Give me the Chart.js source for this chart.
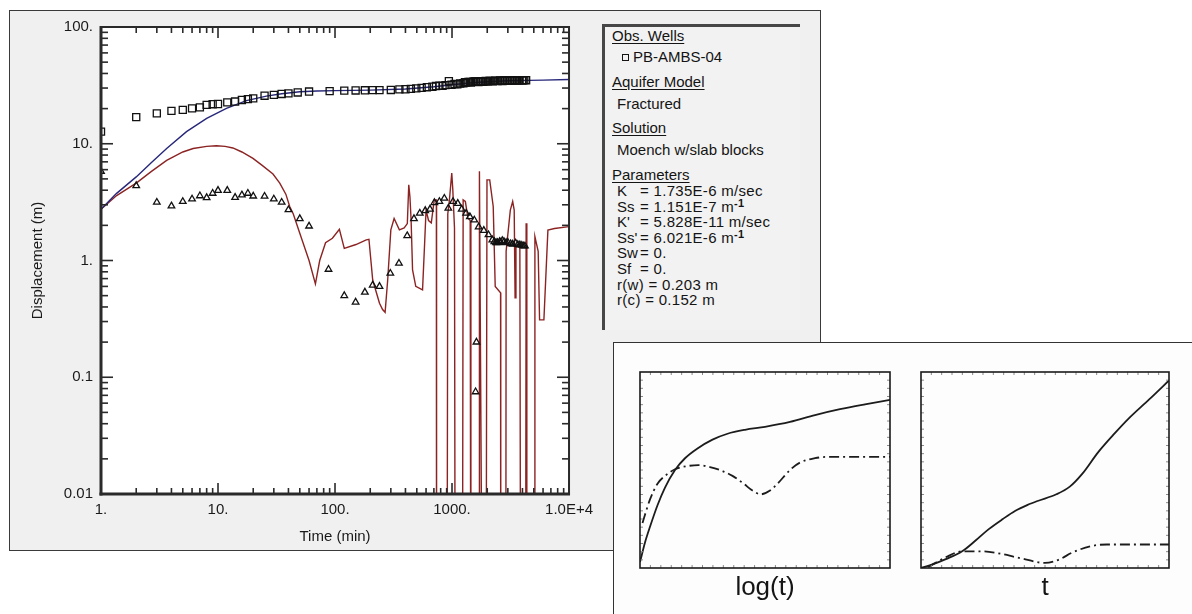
<!DOCTYPE html>
<html>
<head>
<meta charset="utf-8">
<script src="https://cdn.jsdelivr.net/npm/chart.js@4.4.1/dist/chart.umd.min.js"></script>
<style>
  html, body { margin: 0; padding: 0; width: 1192px; height: 614px; overflow: hidden; background: #ffffff;
    font-family: "Liberation Sans", Arial, sans-serif; }
  #win { position: absolute; left: 9px; top: 10px; width: 810px; height: 539px; background: #f0f0f0; border: 1px solid #3a3a3a; }
  #main { position: absolute; left: 0; top: 0; }
  #legendBox { position: absolute; left: 602px; top: 24px; width: 195px; height: 303px; background: #f2f2f2;
    border-left: 3px solid #474747; border-top: 3px solid #474747; }
  .lg { position: absolute; font-size: 15px; line-height: 16px; color: #141414; white-space: nowrap; }
  .pv { letter-spacing: 0.3px; }
  .u { text-decoration: underline; text-underline-offset: 2px; }
  .lg sup { font-size: 11px; line-height: 0; vertical-align: 5px; font-weight: bold; }
  #wellMark { position: absolute; left: 622px; top: 54px; width: 5px; height: 5px; border: 1px solid #141414; }
  #inset { position: absolute; left: 613px; top: 342px; width: 600px; height: 300px; background: #fdfdfd; border: 1px solid #333; }
  .inc { position: absolute; }
  .axlab { position: absolute; font-size: 26px; color: #151515; transform: translateX(-50%); white-space: nowrap; }
</style>
</head>
<body>
<div id="win"></div>
<canvas id="main" width="600" height="560"></canvas>

<div id="legendBox"></div>
<div class="lg u" style="left:612px;top:28px;">Obs. Wells</div>
<div id="wellMark"></div>
<div class="lg" style="left:633px;top:49px;">PB-AMBS-04</div>
<div class="lg u" style="left:612px;top:74px;">Aquifer Model</div>
<div class="lg" style="left:617px;top:96px;">Fractured</div>
<div class="lg u" style="left:612px;top:120px;">Solution</div>
<div class="lg" style="left:617px;top:142px;">Moench w/slab blocks</div>
<div class="lg u" style="left:612px;top:167px;">Parameters</div>
<div class="lg" style="left:617px;top:183px;">K</div><div class="lg pv" style="left:640px;top:183px;">= 1.735E-6 m/sec</div>
<div class="lg" style="left:617px;top:199px;">Ss</div><div class="lg pv" style="left:640px;top:199px;">= 1.151E-7 m<sup>-1</sup></div>
<div class="lg" style="left:617px;top:214px;">K'</div><div class="lg pv" style="left:640px;top:214px;">= 5.828E-11 m/sec</div>
<div class="lg" style="left:617px;top:230px;">Ss'</div><div class="lg pv" style="left:640px;top:230px;">= 6.021E-6 m<sup>-1</sup></div>
<div class="lg" style="left:617px;top:245px;">Sw</div><div class="lg pv" style="left:640px;top:245px;">= 0.</div>
<div class="lg" style="left:617px;top:261px;">Sf</div><div class="lg pv" style="left:640px;top:261px;">= 0.</div>
<div class="lg pv" style="left:617px;top:277px;">r(w) = 0.203 m</div>
<div class="lg pv" style="left:617px;top:292px;">r(c) = 0.152 m</div>

<div id="inset"></div>
<canvas id="insetLog" class="inc" width="260" height="206" style="left:635px;top:367px;"></canvas>
<canvas id="insetLin" class="inc" width="258" height="206" style="left:916px;top:367px;"></canvas>
<div class="axlab" style="left:765px;top:571px;">log(t)</div>
<div class="axlab" style="left:1045px;top:571px;">t</div>

<script>
// ---- Axis ticks ----
const xTickValues = [1, 10, 100, 1000, 10000];
const xTickLabels = ['1.', '10.', '100.', '1000.', '1.0E+4'];
const yTickValues = [0.01, 0.1, 1, 10, 100];
const yTickLabels = ['0.01', '0.1', '1.', '10.', '100.'];

// ---- Observation well PB-AMBS-04 : drawdown (squares) ----
const wellTime = [1, 2, 3, 4, 5, 6, 7, 8, 9, 10, 12, 14, 16, 18, 20, 25, 30, 35, 40, 48, 60, 90, 120, 150, 180,
  210, 240, 300, 355, 400, 445, 495, 550, 610, 680, 730, 780, 830, 880, 940, 990, 1050, 1110, 1175, 1250,
  1320, 1380, 1450, 1520, 1600, 1680, 1760, 1850, 1940, 2030, 2130, 2230, 2340, 2450, 2570, 2700, 2830,
  2970, 3120, 3270, 3430, 3600, 3780, 3960, 4150, 4300,
  1290, 1420, 1560, 1720, 1900, 2080, 2280, 2500, 2760, 3040, 3350, 3690, 4060];
const wellDisp = [12.7, 16.9, 18.2, 19.1, 19.5, 20.1, 20.5, 21.5, 21.8, 21.9, 22.6, 23.0, 23.7, 24.1, 24.5,
  25.8, 26.2, 26.7, 27.0, 27.5, 28.0, 28.2, 28.5, 28.6, 28.7, 28.8, 28.8, 28.9, 29.2, 29.3, 29.5, 29.8, 30.1,
  30.5, 30.8, 31.2, 31.5, 31.3, 31.8, 34.3, 32.0, 32.5, 32.3, 32.8, 33.0, 33.4, 33.8, 33.5, 34.0, 34.2, 33.8,
  34.3, 34.0, 34.5, 34.2, 34.6, 34.3, 34.7, 34.4, 34.8, 34.5, 34.9, 34.6, 35.0, 34.7, 35.0, 34.8, 35.1, 34.9,
  35.1, 35.0,
  33.6, 33.9, 34.1, 34.4, 34.2, 34.5, 34.6, 34.6, 34.8, 34.8, 34.9, 35.0, 35.0];

// ---- Derivative of drawdown (triangles) ----
const derivTime = [1, 2, 3, 4, 5, 6, 7, 8, 9, 10, 12, 14, 16, 18, 20, 25, 30, 35, 40, 50, 60, 88, 120, 150,
  180, 210, 240, 297, 352, 414, 473, 530, 590, 648, 707, 780, 860, 930, 1020, 1120, 1210, 1320, 1420, 1550,
  1590, 1617, 1690, 1870, 2050, 2210, 2300, 2380, 2450, 2550, 2600, 2690, 2780, 2900, 3000, 3170, 3300,
  3500, 3650, 3800, 3950, 4090, 4200];
const derivDisp = [5.8, 4.37, 3.15, 2.93, 3.2, 3.36, 3.58, 3.45, 3.76, 3.98, 3.98, 3.47, 3.64, 3.76, 3.56,
  3.55, 3.36, 3.15, 2.72, 2.28, 1.97, 0.84, 0.5, 0.44, 0.535, 0.615, 0.6, 0.777, 0.946, 1.63, 2.28, 2.54, 2.67,
  2.75, 3.13, 3.2, 3.41, 2.8, 3.2, 3.08, 2.75, 2.54, 2.37, 2.22, 0.075, 0.2, 1.94, 1.81, 1.66, 1.5, 1.45, 1.42,
  1.42, 1.45, 1.43, 1.48, 1.45, 1.42, 1.43, 1.39, 1.38, 1.41, 1.37, 1.36, 1.35, 1.33, 1.33];

// ---- Moench type curve, drawdown ----
const fitTime = [1, 1.36, 2, 2.7, 3.64, 5.38, 8, 11.8, 17.5, 25.9, 35, 50, 70, 100, 200, 400, 700, 1000,
  1500, 2000, 3000, 4500, 6000, 10000];
const fitDisp = [2.75, 3.76, 5.2, 6.9, 9.1, 12.7, 16.5, 20.1, 23.4, 25.6, 26.8, 27.9, 28.3, 28.5, 28.8, 29.4,
  30.8, 32.0, 33.3, 34.0, 34.6, 34.9, 35.1, 35.5];

// ---- Moench type curve, derivative (values near 1e-4 run off the bottom of the log axis) ----
const fitDerivTime = [1, 1.36, 2, 2.7, 3.64, 5, 6.13, 8, 9.7, 11.5, 13.4, 16, 19.9, 24, 29.5, 33.7, 38, 41, 44,
  50, 60, 68, 74, 83, 95, 109, 120, 151, 185, 195, 210, 240, 255, 268, 282, 300, 320, 355, 390, 415, 427, 437,
  447, 460, 490, 560, 585, 600, 630, 665, 705, 735, 738, 905, 920, 950, 995, 1015, 1050, 1067, 1225, 1245,
  1300, 1370, 1430, 1450, 1705, 1715, 1830, 1950, 1990, 2100, 2250, 2340, 2600, 2610, 2880, 2900, 3150,
  3300, 3400, 3460, 3520, 3800, 3870, 4250, 4300, 4360, 5090, 5110, 5450, 5600, 6100, 6600, 7500, 10000];
const fitDerivDisp = [2.75, 3.6, 4.6, 5.8, 7.2, 8.5, 9.1, 9.5, 9.6, 9.5, 9.2, 8.5, 7.5, 6.5, 5.5, 4.6, 3.7,
  2.9, 2.5, 1.71, 1.0, 0.63, 1.0, 1.42, 1.55, 1.85, 1.27, 1.37, 1.5, 1.52, 0.68, 0.43, 0.38, 0.36, 0.68, 1.83,
  2.29, 1.83, 1.9, 2.07, 4.45, 3.5, 2.22, 0.83, 0.6, 0.56, 1.5, 2.7, 2.2, 2.1, 3.3, 3.3, 1e-4, 1e-4, 2.5, 3.3,
  5.6, 4.1, 1.9, 1e-4, 1e-4, 3.3, 3.2, 2.3, 2.2, 1e-4, 1e-4, 5.8, 1e-4, 1e-4, 4.9, 4.9, 2.9, 0.6, 0.53, 1e-4,
  1e-4, 1.2, 2.7, 3.2, 2.7, 0.48, 1.3, 1.4, 1e-4, 1e-4, 2.08, 1e-4, 1e-4, 1.6, 1.2, 0.31, 0.31, 1.82, 1.88,
  1.95];

// ---- Sketch curves: drawdown (solid) and derivative (dash-dot), log(t) and t panels ----
const logPanelSolidX = [0, 0.02, 0.04, 0.07, 0.1, 0.14, 0.18, 0.23, 0.29, 0.35, 0.42, 0.5, 0.6, 0.7, 0.8, 0.9, 1.0];
const logPanelSolidY = [0.03, 0.13, 0.21, 0.32, 0.41, 0.5, 0.56, 0.61, 0.655, 0.685, 0.705, 0.72, 0.745, 0.78, 0.81, 0.835, 0.858];
const logPanelDerivX = [0.01, 0.04, 0.07, 0.1, 0.14, 0.19, 0.234, 0.28, 0.32, 0.37, 0.415, 0.45, 0.483, 0.52, 0.55, 0.6, 0.64, 0.7, 0.747, 1.0];
const logPanelDerivY = [0.23, 0.35, 0.43, 0.47, 0.504, 0.52, 0.525, 0.515, 0.5, 0.47, 0.43, 0.395, 0.376, 0.395, 0.43, 0.5, 0.538, 0.56, 0.567, 0.567];
const linPanelSolidX = [0, 0.044, 0.1, 0.166, 0.22, 0.272, 0.33, 0.379, 0.43, 0.47, 0.546, 0.6, 0.65, 0.714, 0.776, 0.836, 0.92, 1.0];
const linPanelSolidY = [0, 0.017, 0.045, 0.085, 0.14, 0.197, 0.25, 0.291, 0.322, 0.342, 0.376, 0.415, 0.48, 0.59, 0.68, 0.761, 0.86, 0.957];
const linPanelDerivX = [0.029, 0.1, 0.166, 0.24, 0.303, 0.4, 0.5, 0.56, 0.607, 0.683, 0.75, 1.0];
const linPanelDerivY = [0.005, 0.055, 0.085, 0.085, 0.077, 0.05, 0.026, 0.045, 0.077, 0.111, 0.12, 0.12];

const pairs = (xs, ys) => xs.map((v, i) => ({ x: v, y: ys[i] }));

Chart.defaults.font.family = '"Liberation Sans", Arial, sans-serif';
Chart.defaults.color = '#1a1a1a';

// White plot area, inward minor/major ticks on all four sides, heavy frame
const logFrame = {
  id: 'logFrame',
  beforeDatasetsDraw(chart) {
    const { ctx, chartArea: a } = chart;
    ctx.save();
    ctx.fillStyle = '#ffffff';
    ctx.fillRect(a.left, a.top, a.right - a.left, a.bottom - a.top);
    ctx.restore();
  },
  afterDatasetsDraw(chart) {
    const { ctx, chartArea: a, scales: { x, y } } = chart;
    ctx.save();
    ctx.strokeStyle = '#2a2a2a';
    ctx.lineWidth = 1.6;
    const seg = (x1, y1, x2, y2) => { ctx.beginPath(); ctx.moveTo(x1, y1); ctx.lineTo(x2, y2); ctx.stroke(); };
    for (let e = 0; e <= 4; e++) {
      for (let k = 1; k <= 9; k++) {
        if (e === 4 && k > 1) break;
        const px = x.getPixelForValue(k * Math.pow(10, e));
        const len = k === 1 ? 11 : 6;
        seg(px, a.bottom, px, a.bottom - len);
        seg(px, a.top, px, a.top + len);
      }
    }
    for (let e = -2; e <= 2; e++) {
      for (let k = 1; k <= 9; k++) {
        if (e === 2 && k > 1) break;
        const py = y.getPixelForValue(k * Math.pow(10, e));
        const len = k === 1 ? 12 : 7;
        seg(a.left, py, a.left + len, py);
        seg(a.right, py, a.right - len, py);
      }
    }
    ctx.lineWidth = 2;
    ctx.strokeRect(a.left, a.top, a.right - a.left, a.bottom - a.top);
    ctx.lineWidth = 3;
    seg(a.left, a.top - 1, a.left, a.bottom + 1.5);
    seg(a.left - 1.5, a.bottom, a.right + 1, a.bottom);
    ctx.restore();
  }
};

new Chart(document.getElementById('main'), {
  type: 'scatter',
  data: {
    datasets: [
      { label: 'PB-AMBS-04', data: pairs(wellTime, wellDisp), pointStyle: 'rect', pointRadius: 5,
        borderColor: '#111111', backgroundColor: 'rgba(0,0,0,0)', borderWidth: 1.3, showLine: false },
      { label: 'derivative', data: pairs(derivTime, derivDisp), pointStyle: 'triangle', pointRadius: 3.8,
        borderColor: '#111111', backgroundColor: 'rgba(0,0,0,0)', borderWidth: 1.3, showLine: false },
      { label: 'Moench', data: pairs(fitTime, fitDisp), showLine: true, pointRadius: 0,
        borderColor: '#27277a', borderWidth: 1.4 },
      { label: 'Moench derivative', data: pairs(fitDerivTime, fitDerivDisp), showLine: true, pointRadius: 0,
        borderColor: '#8c2323', borderWidth: 1.4 }
    ]
  },
  options: {
    responsive: false, animation: false, devicePixelRatio: 1,
    layout: { padding: { left: 0, top: 27, right: 30, bottom: 11 } },
    plugins: { legend: { display: false }, tooltip: { enabled: false } },
    scales: {
      x: {
        type: 'logarithmic', min: 1, max: 10000,
        grid: { display: false, drawTicks: false }, border: { display: false },
        afterBuildTicks: s => { s.ticks = xTickValues.map(v => ({ value: v })); },
        afterFit: s => { s.height = 55; },
        ticks: { autoSkip: false, maxRotation: 0, padding: 7, color: '#1a1a1a', font: { size: 15 },
          callback: (v, i) => xTickLabels[i] },
        title: { display: true, text: 'Time (min)', color: '#1a1a1a', font: { size: 15 }, padding: { top: 4, bottom: 3 } }
      },
      y: {
        type: 'logarithmic', min: 0.01, max: 100,
        grid: { display: false, drawTicks: false }, border: { display: false },
        afterBuildTicks: s => { s.ticks = yTickValues.map(v => ({ value: v })); },
        afterFit: s => { s.width = 101; },
        ticks: { autoSkip: false, padding: 8, color: '#1a1a1a', font: { size: 15 },
          callback: (v, i) => yTickLabels[i] },
        title: { display: true, text: 'Displacement (m)', color: '#1a1a1a', font: { size: 15 }, padding: { top: 29, bottom: 0 } }
      }
    }
  },
  plugins: [logFrame]
});

// Panel frame with fine tick marks for the two sketch panels
const sketchFrame = {
  id: 'sketchFrame',
  afterDatasetsDraw(chart) {
    const { ctx, chartArea: a } = chart;
    ctx.save();
    ctx.strokeStyle = '#8a8a8a';
    ctx.lineWidth = 1;
    const n = 24;
    for (let i = 1; i < n; i++) {
      const px = a.left + (a.right - a.left) * i / n;
      const py = a.top + (a.bottom - a.top) * i / n;
      ctx.beginPath();
      ctx.moveTo(px, a.top); ctx.lineTo(px, a.top + 3);
      ctx.moveTo(px, a.bottom); ctx.lineTo(px, a.bottom - 3);
      ctx.moveTo(a.left, py); ctx.lineTo(a.left + 3, py);
      ctx.moveTo(a.right, py); ctx.lineTo(a.right - 3, py);
      ctx.stroke();
    }
    ctx.strokeStyle = '#1a1a1a';
    ctx.lineWidth = 1.6;
    ctx.strokeRect(a.left, a.top, a.right - a.left, a.bottom - a.top);
    ctx.restore();
  }
};

function sketch(id, sx, sy, dx, dy) {
  new Chart(document.getElementById(id), {
    type: 'scatter',
    data: {
      datasets: [
        { data: pairs(sx, sy), showLine: true, pointRadius: 0, borderColor: '#1c1c1c', borderWidth: 1.8,
          tension: 0.4, cubicInterpolationMode: 'monotone' },
        { data: pairs(dx, dy), showLine: true, pointRadius: 0, borderColor: '#1c1c1c', borderWidth: 1.8,
          borderDash: [10, 4, 2, 4], tension: 0.4, cubicInterpolationMode: 'monotone' }
      ]
    },
    options: {
      responsive: false, animation: false, devicePixelRatio: 1,
      layout: { padding: 5 },
      plugins: { legend: { display: false }, tooltip: { enabled: false } },
      scales: {
        x: { type: 'linear', min: 0, max: 1, display: false },
        y: { type: 'linear', min: 0, max: 1, display: false }
      }
    },
    plugins: [sketchFrame]
  });
}
sketch('insetLog', logPanelSolidX, logPanelSolidY, logPanelDerivX, logPanelDerivY);
sketch('insetLin', linPanelSolidX, linPanelSolidY, linPanelDerivX, linPanelDerivY);
</script>
</body>
</html>
